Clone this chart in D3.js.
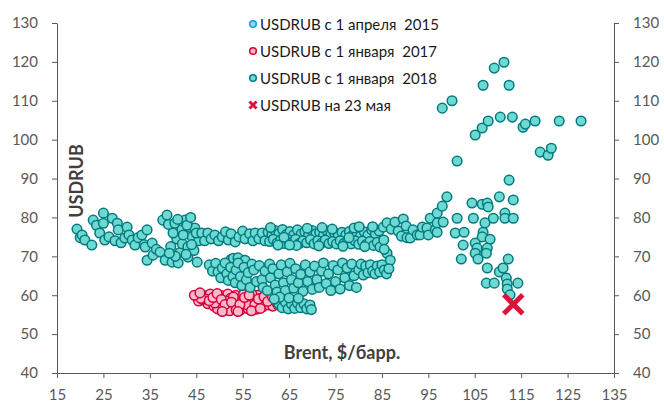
<!DOCTYPE html>
<html>
<head>
<meta charset="utf-8">
<script src="https://cdn.jsdelivr.net/npm/d3@7"></script>
<style>
body { margin: 0; background: #fff; }
text { font-family: Lato, "Noto Sans", sans-serif; }
</style>
</head>
<body>
<svg id="chart" width="664" height="403"></svg>
<script>
// Brent ($/bbl) vs USDRUB scatter

const xTicks = [15, 25, 35, 45, 55, 65, 75, 85, 95, 105, 115, 125, 135];
const yTicks = [40, 50, 60, 70, 80, 90, 100, 110, 120, 130];

const seriesNames = [
    "USDRUB с 1 апреля  2015",
    "USDRUB с 1 января  2017",
    "USDRUB с 1 января  2018",
    "USDRUB на 23 мая"
];

// series 1 is completely hidden under the other two in the picture
const usdrub2015 = [];

const usdrub2017 = [
    [45.0,59.8],[45.5,58.5],[46.2,60.2],[46.5,58.8],[47.2,59.6],[47.5,57.8],[48.0,60.3],[48.4,58.5],
    [48.8,57.2],[49.2,59.8],[49.6,56.5],[50.0,58.2],[50.3,60.0],[50.8,57.0],[51.0,59.0],[51.4,56.2],
    [51.8,60.3],[52.0,57.8],[52.4,59.2],[52.8,56.5],[53.2,58.4],[53.5,60.0],[53.8,57.0],[54.2,59.0],
    [54.5,56.2],[54.8,58.0],[55.2,60.2],[55.5,57.2],[55.8,59.0],[56.2,56.5],[56.5,58.2],[56.8,59.8],
    [57.2,57.0],[57.5,58.8],[57.9,56.4],[58.2,60.0],[58.5,57.8],[58.9,59.2],[59.3,57.0],[59.8,58.5],
    [60.2,59.8],[60.6,57.5],[61.0,58.8],[61.5,57.2],[62.0,58.5],[62.6,57.5],
    [47.0,59.0],[49.0,58.0],[51.5,58.5],[53.0,59.5],[55.0,58.5],[57.0,60.2],[59.0,58.0],[46.0,59.2],
    [52.2,56.0],[56.0,57.5],[44.6,60.0],[45.8,60.6],[47.8,58.6],[48.6,59.4],[49.5,60.4],[50.4,58.9],
    [51.2,57.6],[52.6,58.2],[53.6,56.2],[54.4,57.6],[55.4,59.4],[56.4,60.0],[57.6,57.5],[58.4,59.0],
    [59.6,59.6],[60.4,58.4],[61.4,59.6],[62.2,59.2],[50.6,55.8],[54.0,55.8],[56.9,56.0],[58.8,56.6]
];

const usdrub2018 = [
    // early part, Brent 19-46
    [19.3,77.0],[20.0,74.8],[20.4,75.5],[21.0,74.2],[22.5,72.9],[22.8,79.3],[23.5,78.0],[24.2,76.0],
    [25.0,81.1],[25.0,78.5],[25.3,74.2],[26.2,75.0],[26.9,79.8],[27.5,74.0],[28.0,78.5],[28.2,76.8],
    [28.8,73.5],[29.6,74.7],[30.1,77.5],[30.5,75.5],[31.2,74.2],[31.8,72.9],[32.5,74.8],[33.3,75.5],
    [33.8,73.0],[34.4,76.8],[34.0,72.4],[35.5,73.4],[34.4,69.0],[35.7,70.3],[36.4,71.8],[37.2,71.1],
    [37.8,79.3],[38.7,80.6],[38.3,69.0],[39.0,78.2],[39.8,68.5],[39.5,72.5],[40.4,78.5],[40.8,74.5],
    [41.1,68.3],[41.5,71.0],[41.9,76.8],[42.6,79.3],[42.0,73.2],[43.2,72.4],[43.5,77.5],[44.1,75.0],
    [43.2,69.8],[44.5,71.5],[45.2,68.5],[44.7,77.3],[45.5,74.0],[40.0,76.0],[41.0,79.5],[42.2,75.5],
    [43.0,78.0],[44.0,73.0],[42.8,70.5],[40.5,70.0],[39.2,70.8],[43.8,80.0],[45.0,76.0],
    // upper band, Brent 46-60
    [46.2,76.0],[46.8,74.0],[47.5,76.0],[48.2,74.5],[49.0,75.5],[49.8,74.0],[50.6,75.0],[51.3,76.3],
    [51.9,74.2],[52.5,75.8],[53.4,73.7],[54.2,75.0],[55.0,76.5],[55.5,74.5],[56.5,75.8],[57.2,74.0],
    [57.7,76.0],[58.5,74.5],[59.2,76.0],[59.8,74.0],
    // upper band, Brent 60-85
    [60.5,76.2],[61.3,75.6],[62.0,76.6],[62.8,75.8],[63.6,76.9],[64.4,75.6],[65.2,76.4],[66.0,75.5],
    [66.8,76.8],[67.6,75.7],[68.4,76.3],[69.2,75.5],[70.0,76.6],[70.8,75.8],[71.6,76.2],[72.4,75.4],
    [73.2,76.5],[74.0,75.6],[74.8,76.0],[75.6,75.3],[76.4,76.2],[77.2,75.5],[78.0,76.4],[78.8,75.6],
    [79.6,76.0],[80.4,75.2],[81.2,76.3],[82.0,75.5],[82.8,76.8],[83.6,75.8],[84.4,76.5],
    [60.8,73.8],[61.6,74.4],[62.4,73.4],[63.2,74.2],[64.0,73.3],[64.8,74.3],[65.6,73.5],[66.4,74.4],
    [67.2,73.3],[68.0,74.0],[68.8,73.5],[69.6,74.3],[70.4,73.2],[71.2,74.0],[72.0,73.4],[72.8,74.2],
    [73.6,73.3],[74.4,73.8],[75.2,73.2],[76.0,74.0],[76.8,73.3],[77.6,73.9],[78.4,73.2],[79.2,74.0],
    [80.0,73.1],[80.8,73.9],[81.6,73.0],[82.4,73.8],[83.2,72.8],[84.0,73.6],[84.6,72.4],[85.4,74.2],
    [61.0,77.4],[63.9,74.9],[66.6,72.8],[68.9,77.2],[71.4,72.7],[74.3,77.0],[76.6,72.6],[79.0,77.3],
    [81.3,72.5],[83.0,77.6],[65.1,72.9],[72.1,77.4],[77.9,74.8],[62.6,72.9],[80.1,77.6],
    [86.1,70.8],[86.8,69.0],[85.5,71.8],
    // rising part, Brent 85-99
    [85.3,77.5],[86.1,78.6],[87.0,77.0],[87.8,78.8],[88.5,76.5],[89.6,79.6],[89.2,75.2],[90.2,77.8],
    [90.4,74.8],[91.1,74.7],[91.7,76.8],[92.6,75.5],[93.2,75.5],[93.7,77.5],[94.7,77.3],[95.0,75.5],
    [95.4,79.8],[96.5,76.8],[96.9,78.6],[96.9,81.1],[98.0,82.9],[98.2,78.8],[99.0,85.3],[96.9,76.2],
    // lower band
    [52.5,69.2],[53.0,69.5],[54.0,69.6],[55.5,69.0],
    [47.8,67.8],[48.5,66.2],[49.2,68.2],[49.7,66.0],[50.3,64.5],[50.6,67.0],[51.2,68.3],[51.6,65.5],
    [51.9,63.8],[52.4,67.2],[52.9,64.8],[53.4,63.2],[53.6,66.5],[54.0,68.3],[54.5,64.8],[54.8,62.5],
    [55.3,67.2],[55.8,64.0],[56.2,65.8],[56.6,62.0],[57.0,68.0],[57.4,66.5],[58.0,63.5],[58.6,67.6],
    [59.2,64.0],[59.4,62.0],[59.8,66.2],[60.3,61.2],[60.8,68.0],[61.0,64.5],[61.5,66.8],[62.0,62.6],
    [62.4,60.8],[62.8,65.5],[63.3,67.8],[63.8,63.2],[64.2,61.2],[64.6,66.0],[65.2,68.2],[65.5,64.0],
    [66.0,61.8],[66.4,66.8],[67.0,63.2],[67.5,65.4],[68.0,61.0],[68.5,67.8],[69.0,63.5],[69.5,66.0],
    [70.0,61.5],[70.5,67.5],[71.0,64.0],[71.5,62.0],[72.0,66.2],[72.4,68.3],[73.0,63.0],[73.5,65.5],
    [74.0,61.2],[74.5,67.6],[75.0,63.5],[75.5,66.5],[76.0,61.6],[76.5,68.3],[77.0,64.5],[77.5,67.0],
    [78.0,62.5],[78.5,68.0],[79.0,65.0],[79.5,62.0],
    [80.0,66.5],[80.5,68.0],[81.0,65.2],[81.5,67.5],[82.0,65.8],[82.5,67.8],[83.0,66.2],[83.5,65.5],
    [84.0,67.5],[84.5,66.0],[85.0,67.8],[85.5,66.5],[86.0,65.5],[86.5,66.8],
    // bottom cluster
    [62.8,57.8],[63.5,56.8],[64.2,58.2],[64.8,56.5],[65.5,57.8],[66.2,56.6],[66.8,58.0],[67.5,56.8],
    [68.2,57.8],[68.8,56.5],[69.5,57.5],[69.8,56.3],[63.0,59.5],[65.0,59.3],[61.8,59.0],[67.0,59.2],
    // 2022 scatter
    [98.0,108.1],[100.1,110.0],[106.8,114.0],[109.2,118.4],[111.3,119.9],[112.4,114.0],[105.1,101.2],
    [106.6,103.0],[107.9,104.8],[110.5,105.8],[113.1,105.8],[115.4,103.2],[115.9,104.0],[118.0,104.8],
    [123.2,104.8],[127.9,104.8],[119.1,96.8],[120.8,96.0],[121.5,97.8],[101.2,94.5],
    [101.2,79.8],[100.8,76.0],[102.7,76.2],[102.5,72.9],[102.1,69.3],
    [104.4,83.7],[106.6,83.4],[107.7,83.7],[107.9,82.7],[104.7,79.8],[109.0,79.8],[110.3,85.3],
    [107.2,78.6],[106.8,76.2],[106.6,75.0],[108.3,74.4],[105.1,73.4],[105.5,72.1],[107.7,72.1],
    [105.1,70.8],[107.5,70.8],[105.7,69.3],[107.7,67.0],[107.5,63.1],[109.2,63.1],[111.5,81.1],
    [111.5,79.8],[113.3,79.8],[112.4,89.6],[113.3,84.5],[112.2,69.3],[110.3,66.0],[111.1,67.0],
    [111.8,64.4],[112.0,62.9],[112.0,61.6],[112.6,60.1],[114.3,63.1]
];

const may23 = [[113.3, 57.7]];

const svg = d3.select('#chart');
const axisColor = '#595959';

const x = d3.scaleLinear().domain([15, 135]).range([57, 614]);
const y = d3.scaleLinear().domain([40, 130]).range([373, 23]);

function styleAxis(g) {
    g.attr('font-family', null).attr('font-size', null);
    g.select('.domain').attr('stroke', axisColor);
    g.selectAll('.tick line').attr('stroke', axisColor);
    g.selectAll('.tick text').attr('fill', axisColor).style('font-size', '15px');
}

svg.append('g')
    .attr('transform', 'translate(0,373)')
    .call(d3.axisBottom(x).tickValues(xTicks).tickSize(5).tickSizeOuter(0).tickPadding(11))
    .call(styleAxis);

svg.append('g')
    .attr('transform', 'translate(57,0)')
    .call(d3.axisLeft(y).tickValues(yTicks).tickSize(5).tickSizeOuter(0).tickPadding(14))
    .call(styleAxis);

svg.append('g')
    .attr('transform', 'translate(614,0)')
    .call(d3.axisRight(y).tickValues(yTicks).tickSize(5).tickSizeOuter(0).tickPadding(14))
    .call(styleAxis);

// axis titles
svg.append('text')
    .attr('transform', 'translate(76,181) rotate(-90)')
    .attr('text-anchor', 'middle')
    .attr('dominant-baseline', 'central')
    .style('font-size', '18px').style('font-weight', 'bold')
    .attr('fill', '#404040')
    .text('USDRUB');

svg.append('text')
    .attr('x', 342).attr('y', 352)
    .attr('text-anchor', 'middle')
    .attr('dominant-baseline', 'central')
    .style('font-size', '18px').style('font-weight', 'bold')
    .attr('fill', '#404040')
    .text('Brent, $/барр.');

// points
const styles = [
    {fill: '#8fd6f5', stroke: '#1a9ad6'},
    {fill: '#ffb8c8', stroke: '#d2003c'},
    {fill: '#6dd9d0', stroke: '#007a80'}
];

[usdrub2015, usdrub2017, usdrub2018].forEach((data, i) => {
    svg.append('g')
        .selectAll('circle')
        .data(data)
        .enter().append('circle')
        .attr('cx', d => x(d[0]))
        .attr('cy', d => y(d[1]))
        .attr('r', 4.8)
        .attr('fill', styles[i].fill)
        .attr('stroke', styles[i].stroke)
        .attr('stroke-width', 1.5);
});

svg.append('g')
    .selectAll('path')
    .data(may23)
    .enter().append('path')
    .attr('transform', d => `translate(${x(d[0])},${y(d[1])})`)
    .attr('d', 'M-9.5,-9.5L9.5,9.5M9.5,-9.5L-9.5,9.5')
    .attr('stroke', '#dc143c')
    .attr('stroke-width', 5);

// legend
const legend = svg.append('g');
const rowY = [24, 51, 78, 105];

seriesNames.forEach((name, i) => {
    const row = legend.append('g').attr('transform', `translate(253,${rowY[i]})`);
    if (i < 3) {
        row.append('circle').attr('r', 3.3)
            .attr('fill', styles[i].fill)
            .attr('stroke', styles[i].stroke)
            .attr('stroke-width', 1.5);
    } else {
        row.append('path')
            .attr('d', 'M-3.5,-3.5L3.5,3.5M3.5,-3.5L-3.5,3.5')
            .attr('stroke', '#dc143c')
            .attr('stroke-width', 3);
    }
    row.append('text')
        .attr('x', 7).attr('y', 0)
        .attr('dominant-baseline', 'central')
        .style('font-size', '15px')
        .style('white-space', 'pre')
        .attr('fill', '#1a1a1a')
        .text(name);
});
</script>
</body>
</html>
